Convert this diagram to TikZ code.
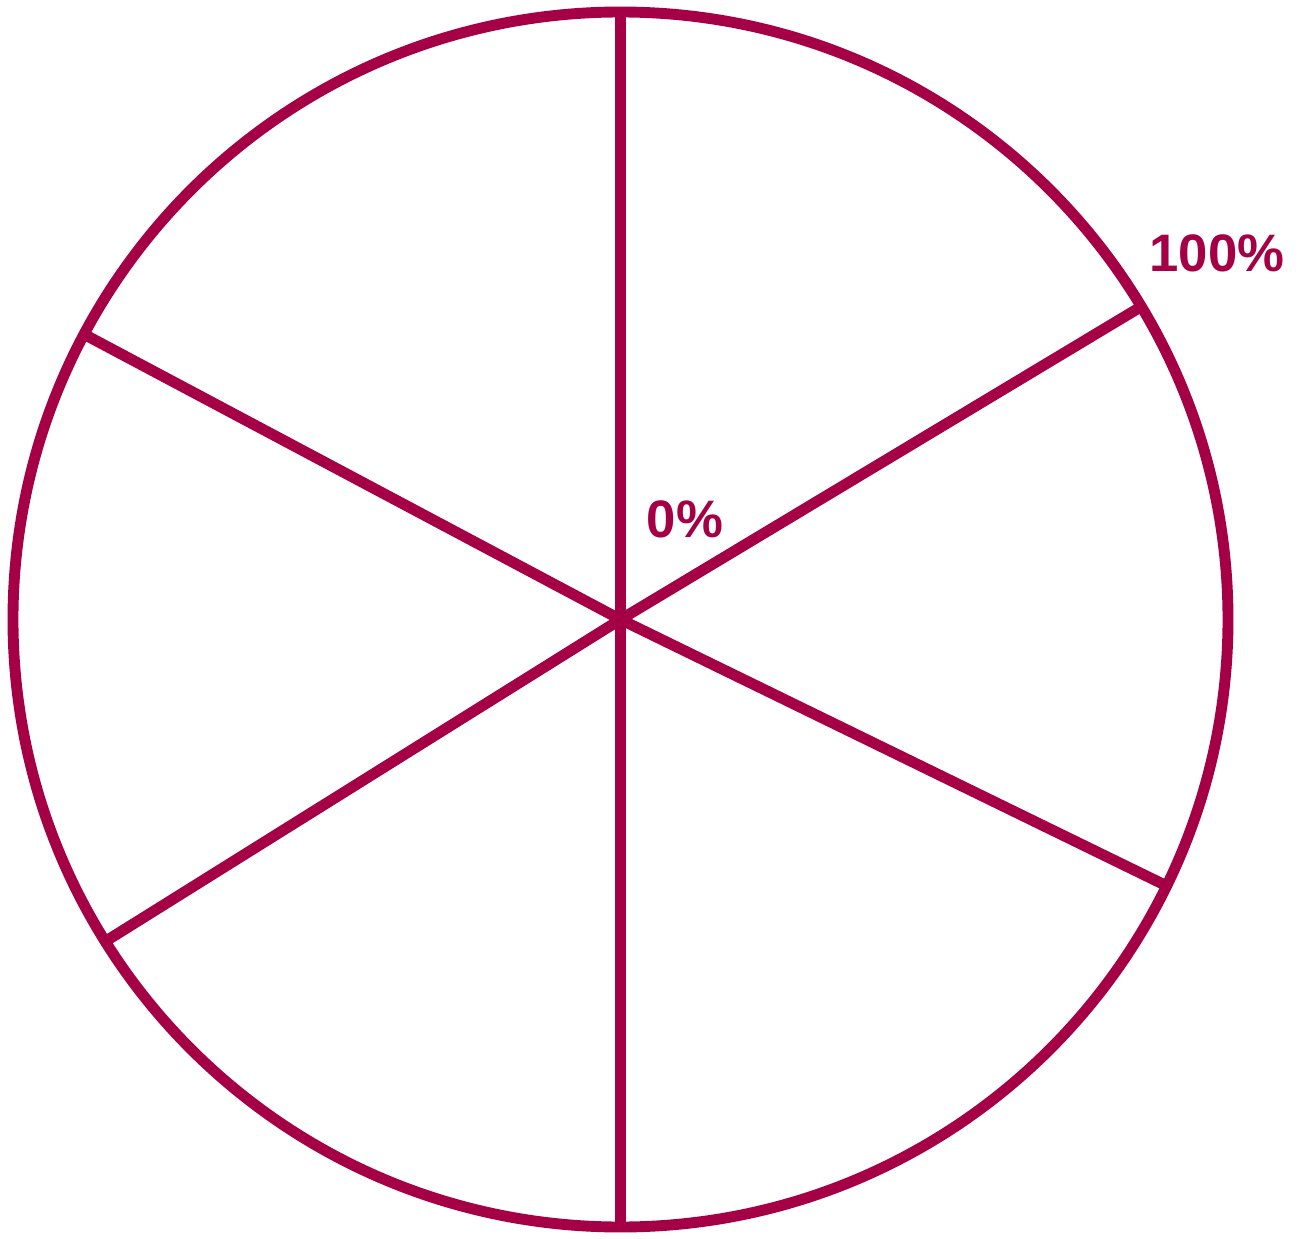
\documentclass[tikz,border=0pt]{standalone}
\usepackage{fontspec}
\setmainfont{Liberation Sans}
\definecolor{wine}{RGB}{165,0,70}

\begin{document}
\begin{tikzpicture}[line width=6.2pt, every node/.style={font=\bfseries\fontsize{30}{36}\selectfont, text=wine}]
      \useasboundingbox (-12.41,-12.37) rectangle (13.63,12.39);
      \coordinate (hub) at (0,0);
      \node[draw=wine, circle, inner sep=0pt, outer sep=0pt, minimum size=24.3cm] (rim) at (hub) {};

      \foreach \a in {90,31.8,-26.5,-90,212.6,152.9}
        \draw[wine] (hub) -- (rim.\a);

      \node (zero) at (1.29,2.01) {0\%};
      \node (full) at (11.93,7.33) {100\%};
    \end{tikzpicture}
\end{document}
